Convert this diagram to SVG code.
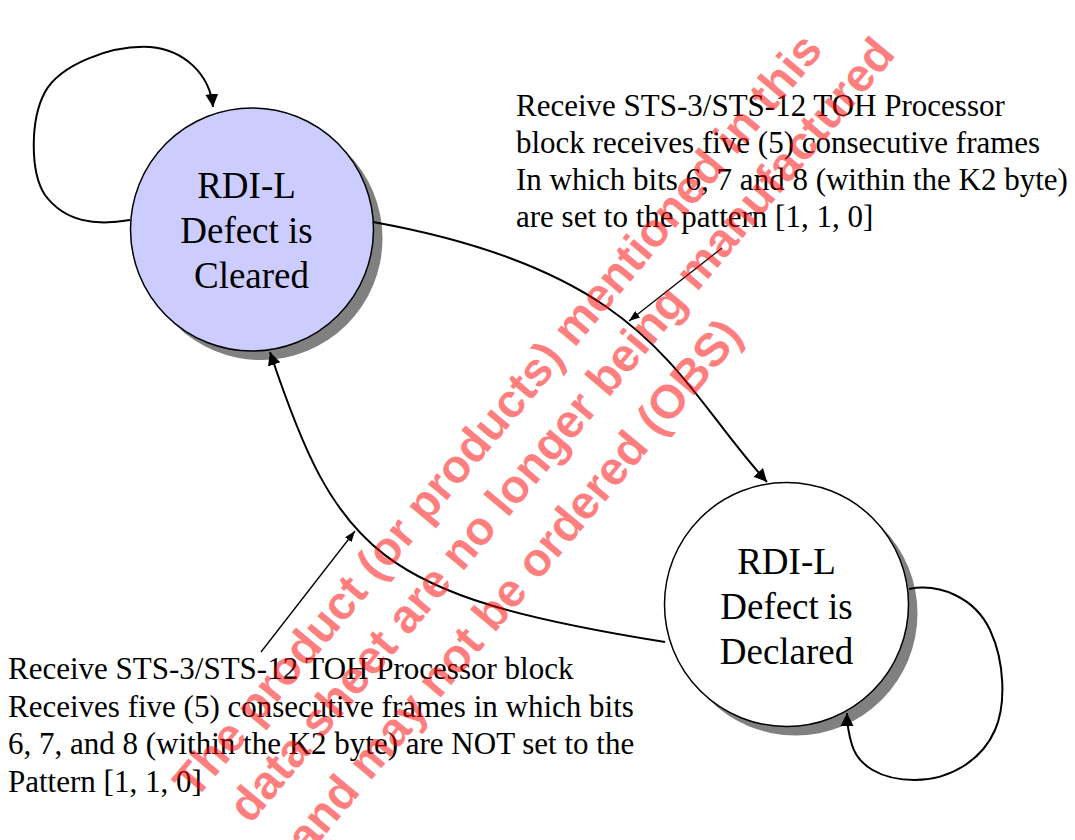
<svg xmlns="http://www.w3.org/2000/svg" width="1075" height="840" viewBox="0 0 1075 840">
<defs>
<style>
.lbl{font-family:"Liberation Serif","Times New Roman",serif;font-size:31px;fill:#000}
.st{font-family:"Liberation Serif","Times New Roman",serif;font-size:37px;fill:#000;text-anchor:middle}
.conn{fill:none;stroke:#000;stroke-width:2}
.ann{fill:none;stroke:#000;stroke-width:1.3}
.ring{stroke:#000;stroke-width:1.5}
.shadow{fill:#808080}
.wm{font-family:"Liberation Sans",Arial,sans-serif;font-weight:bold;font-size:47px;fill:#FF0000;fill-opacity:0.5}
</style>
<marker id="ah" markerUnits="userSpaceOnUse" viewBox="0 0 13 14" markerWidth="13" markerHeight="14" refX="13" refY="7" orient="auto"><path d="M0,0.5 L13,7 L0,13.5 z" fill="#000"/></marker>
<marker id="as" markerUnits="userSpaceOnUse" viewBox="0 0 11 8" markerWidth="11" markerHeight="8" refX="11" refY="4" orient="auto"><path d="M0,0 L11,4 L0,8 z" fill="#000"/></marker>
</defs>
<rect width="1075" height="840" fill="#fff"/>
<g id="node-cleared">
<circle class="shadow" cx="261" cy="238.5" r="121.5"/>
<circle class="ring" cx="252" cy="229.5" r="121.5" fill="#CCCCFF"/>
<text class="st" x="246.5" y="197.5">RDI-L</text>
<text class="st" x="246.5" y="242.5">Defect is</text>
<text class="st" x="251.5" y="287.5">Cleared</text>
</g>
<g id="node-declared">
<circle class="shadow" cx="795.5" cy="613.5" r="122"/>
<circle class="ring" cx="786.5" cy="604.5" r="122" fill="#FFFFFF"/>
<text class="st" x="786.5" y="573.5">RDI-L</text>
<text class="st" x="786.5" y="618.5">Defect is</text>
<text class="st" x="786.5" y="663.5">Declared</text>
</g>
<g id="connectors">
<path class="conn" marker-end="url(#ah)" d="M130,220 C95,226 65,222 45,195 C30,172 30,120 45,92 C60,65 110,45 150,47 C185,50 210,75 213,107"/>
<path class="conn" marker-end="url(#ah)" d="M373,222 C651,272 675,381 767,482"/>
<path class="conn" marker-end="url(#ah)" d="M665,642 C378,596 337,553 270,352"/>
<path class="conn" marker-end="url(#ah)" d="M909,589 C940,583 975,598 990,630 C1005,662 1006,705 995,730 C982,760 950,780 915,780 C880,780 858,765 852,745 C849,735 847,725 847,713"/>
<path class="ann" marker-end="url(#as)" d="M722,248 L629,321"/>
<path class="ann" marker-end="url(#as)" d="M261,652 L355,531"/>
</g>
<g id="label-set">
<text class="lbl" x="516" y="116">Receive STS-3/STS-12 TOH Processor</text>
<text class="lbl" x="516" y="153">block receives five (5) consecutive frames</text>
<text class="lbl" x="516" y="190">In which bits 6, 7 and 8 (within the K2 byte)</text>
<text class="lbl" x="516" y="227">are set to the pattern [1, 1, 0]</text>
</g>
<g id="label-notset">
<text class="lbl" x="8" y="679">Receive STS-3/STS-12 TOH Processor block</text>
<text class="lbl" x="8" y="716.5">Receives five (5) consecutive frames in which bits</text>
<text class="lbl" x="8" y="754">6, 7, and 8 (within the K2 byte) are NOT set to the</text>
<text class="lbl" x="8" y="791.5">Pattern [1, 1, 0]</text>
</g>
<g id="watermark" transform="rotate(-50)" class="wm">
<text class="wm" x="-488" y="664">The product (or products) mentioned in this</text>
<text class="wm" x="-471" y="722">data sheet are no longer being manufactured</text>
<text class="wm" x="-458" y="786">and may not be ordered (OBS)</text>
</g>
</svg>
